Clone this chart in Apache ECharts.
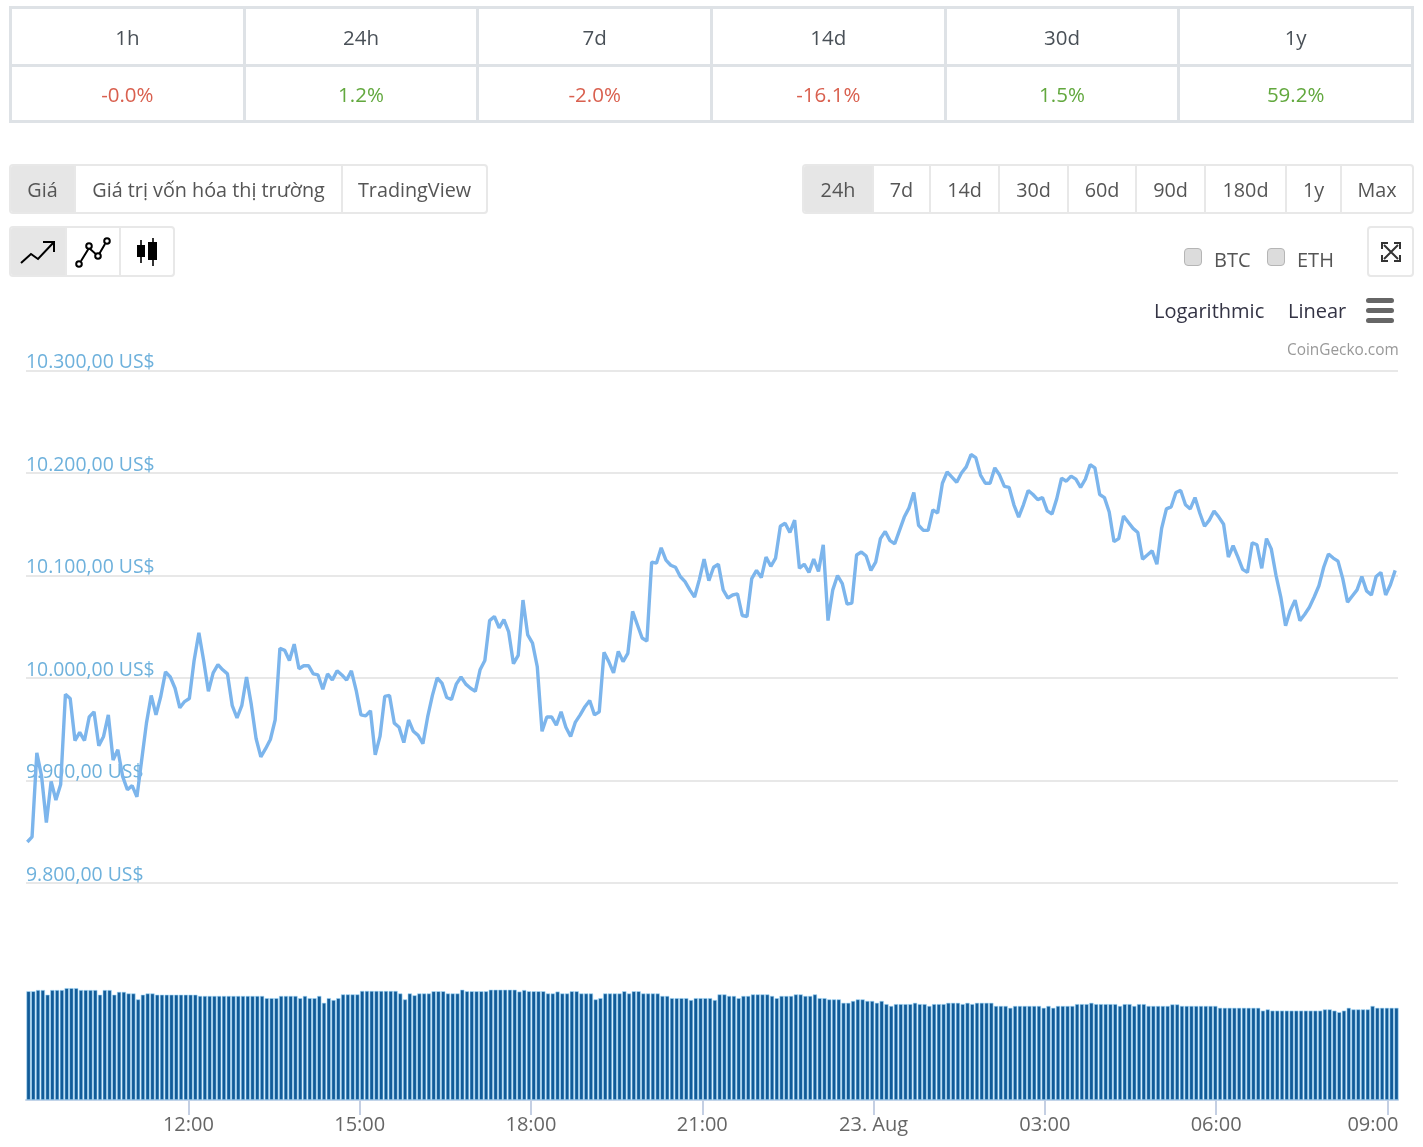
<!DOCTYPE html>
<html>
<head>
<meta charset="utf-8">
<title>Biểu đồ giá</title>
<script src="https://cdn.jsdelivr.net/npm/echarts@6/dist/echarts.min.js"></script>
<style>
html,body{margin:0;padding:0;background:#fff;font-family:"Open Sans",sans-serif;color:#495057}
#chartDiv{position:absolute;left:0;top:0;width:1423px;height:1147px}
.box{position:absolute;z-index:2}
table{position:absolute;left:9px;top:6px;width:1405px;border-collapse:collapse;table-layout:fixed;z-index:2}
td{border:3px solid #dee2e6;text-align:center;font-size:20.5px;padding:0}
#periodRow td{height:55px}
#changeRow td{height:52px;padding-top:1px}
.red{color:#d9604f}
.green{color:#62a83e}
.group{display:flex;border:2px solid #e8e8e8;border-radius:4px;box-sizing:border-box;height:50px;overflow:hidden}
.group div{display:flex;align-items:center;justify-content:center;box-sizing:border-box;border-left:2px solid #e8e8e8;font-size:19.8px;color:#555}
.group div:first-child{border-left:0}
.group .on{background:#e6e6e6}
.check{width:18px;height:18px;border:1px solid #b5b5b5;border-radius:4px;background:#dcdcdc;box-sizing:border-box}
.lab{font-size:20px;color:#555}
</style>
</head>
<body>
<table>
<tr id="periodRow"></tr>
<tr id="changeRow"></tr>
</table>

<div class="box group" style="left:9px;top:164px;width:479px">
  <div class="on" style="width:63px">Giá</div>
  <div style="width:267px">Giá trị vốn hóa thị trường</div>
  <div style="width:145px">TradingView</div>
</div>
<div class="box group" style="left:802px;top:164px;width:612px">
  <div class="on" style="width:68px">24h</div>
  <div style="width:57px">7d</div>
  <div style="width:69px">14d</div>
  <div style="width:69px">30d</div>
  <div style="width:68px">60d</div>
  <div style="width:69px">90d</div>
  <div style="width:81px">180d</div>
  <div style="width:55px">1y</div>
  <div style="width:72px">Max</div>
</div>
<div class="box group" style="left:9px;top:226px;width:166px;height:51px">
  <div class="on" style="width:54px"><svg width="38" height="28" viewBox="0 0 38 28" fill="none" stroke="#000" stroke-width="2"><path d="M2 25 L12 16 L19 21 L35 4 M24 4 H35 V14"/></svg></div>
  <div style="width:54px"><svg width="38" height="34" viewBox="0 0 38 34" fill="none" stroke="#000" stroke-width="2"><path d="M7 26 L15 13 L24 21 L31 9"/><circle cx="5" cy="29" r="2.8" fill="#fff"/><circle cx="15" cy="11" r="2.8" fill="#fff"/><circle cx="24" cy="21" r="2.8" fill="#fff"/><circle cx="33" cy="6" r="2.8" fill="#fff"/></svg></div>
  <div style="width:54px"><svg width="24" height="30" viewBox="0 0 24 30"><path d="M6 3V26M18 1V29" stroke="#333" stroke-width="2"/><rect x="2" y="8" width="8" height="12" fill="#000"/><rect x="13" y="5" width="9" height="18" fill="#000"/></svg></div>
</div>
<div class="box group" style="left:1367px;top:226px;width:47px;height:51px">
  <div style="width:100%"><svg width="22" height="22" viewBox="0 0 22 22" fill="none" stroke="#333" stroke-width="2"><path d="M4 4 L18 18 M18 4 L4 18"/><path d="M2 8 V2 H8 M14 2 H20 V8 M2 14 V20 H8 M14 20 H20 V14"/></svg></div>
</div>
<div class="box check" style="left:1184px;top:248px"></div>
<div class="box lab" style="left:1214px;top:246px">BTC</div>
<div class="box check" style="left:1267px;top:248px"></div>
<div class="box lab" style="left:1297px;top:246px">ETH</div>

<div id="chartDiv"></div>

<script>
var periods = ['1h', '24h', '7d', '14d', '30d', '1y'];
var changes = ['-0.0%', '1.2%', '-2.0%', '-16.1%', '1.5%', '59.2%'];

// one reading about every 5 minutes, starting 22 Aug 09:10
var prices = [
  9840,9845,9927,9904,9859,9899,9881,9896,9984,9980,
  9939,9947,9939,9962,9967,9934,9943,9964,9920,9930,
  9904,9891,9895,9884,9920,9956,9983,9964,9982,10006,
  10001,9990,9971,9977,9980,10017,10044,10017,9987,10005,
  10013,10008,10004,9973,9961,9973,10001,9974,9941,9923,
  9931,9940,9959,10029,10027,10017,10033,10009,10012,10012,
  10004,10003,9989,10004,9998,10007,10003,9998,10007,9988,
  9964,9963,9968,9925,9943,9982,9983,9956,9952,9937,
  9959,9948,9944,9936,9962,9983,10000,9995,9981,9979,
  9994,10001,9994,9990,9987,10008,10017,10056,10060,10049,
  10057,10045,10014,10022,10076,10042,10034,10011,9948,9962,
  9962,9954,9967,9952,9943,9957,9964,9972,9978,9964,
  9967,10025,10016,10005,10026,10016,10024,10065,10052,10039,
  10036,10113,10112,10127,10115,10110,10108,10099,10094,10086,
  10079,10096,10116,10095,10108,10111,10086,10078,10081,10082,
  10061,10060,10097,10105,10098,10118,10109,10117,10148,10151,
  10142,10154,10107,10111,10103,10116,10104,10130,10056,10086,
  10100,10092,10072,10073,10120,10123,10119,10105,10113,10136,
  10143,10134,10131,10144,10157,10166,10181,10149,10144,10144,
  10164,10161,10190,10201,10196,10191,10200,10206,10218,10215,
  10198,10190,10190,10205,10198,10187,10186,10169,10157,10169,
  10183,10179,10174,10176,10163,10160,10175,10195,10192,10197,
  10194,10186,10194,10208,10205,10179,10176,10162,10133,10136,
  10158,10152,10146,10142,10116,10120,10124,10111,10146,10165,
  10167,10181,10183,10169,10165,10176,10161,10148,10154,10163,
  10157,10150,10118,10129,10118,10106,10103,10132,10130,10107,
  10136,10126,10100,10079,10051,10066,10076,10056,10062,10069,
  10079,10090,10108,10121,10117,10114,10097,10074,10080,10086,
  10099,10085,10081,10099,10103,10081,10091,10105
];

// volume in billions of US$, estimated (the chart has no scale for it)
var volumes = [
  17.4,17.4,17.6,17.6,16.85,17.6,17.6,17.6,17.9,17.9,
  17.9,17.6,17.6,17.6,17.6,16.85,17.6,17.6,16.85,17.3,
  17.3,17.05,17.05,16.1,16.85,17.05,17.05,16.85,16.85,16.85,
  16.85,16.85,16.85,16.85,16.85,16.85,16.65,16.65,16.65,16.65,
  16.65,16.65,16.65,16.65,16.65,16.65,16.65,16.65,16.65,16.65,
  16.3,16.3,16.3,16.65,16.65,16.65,16.65,16.3,16.65,16.3,
  16.3,16.65,15.55,16.3,16,16.3,16.9,16.9,16.9,16.9,
  17.45,17.45,17.45,17.45,17.45,17.45,17.45,17.45,17.05,16.1,
  17.05,16.75,17.05,17.05,17.05,17.4,17.4,17.4,17.05,17.05,
  17.05,17.65,17.4,17.4,17.4,17.4,17.4,17.65,17.65,17.65,
  17.65,17.65,17.65,17.35,17.6,17.4,17.4,17.4,17.4,17.05,
  17.05,17.35,17.05,17.05,17.4,17.4,17.05,17.05,17.05,16.1,
  16.3,17.05,17.05,17.05,17.05,17.4,17.05,17.4,17.4,17.05,
  17.05,17.05,17.05,16.65,16.65,16.3,16.3,16.3,16.3,16,
  16.3,16.3,16.3,16.3,16,16.9,16.9,16.65,16.65,16.3,
  16.65,16.65,16.9,16.9,16.9,16.9,16.65,16.3,16.65,16.65,
  16.65,16.9,16.9,16.65,16.65,16.9,16.3,16.3,16.1,16.1,
  16.1,15.55,15.55,15.85,16.1,16.1,15.85,15.85,15.55,15.85,
  15.35,15.05,15.35,15.35,15.35,15.35,15.55,15.35,15.35,15.05,
  15.35,15.35,15.35,15.55,15.55,15.55,15.35,15.55,15.35,15.55,
  15.55,15.55,15.55,15.05,15.05,15.05,14.75,15.05,15.05,15.05,
  15.05,15.05,15.05,14.75,15.05,14.75,15.05,15.05,15.05,15.05,
  15.35,15.35,15.35,15.55,15.35,15.35,15.35,15.35,15.35,15.05,
  15.35,15.35,15.05,15.35,15.35,15.05,15.05,15.05,15.05,15.05,
  15.3,15.3,15.05,15.05,15.05,15.05,15.05,15.05,15.05,15.05,
  14.75,14.75,14.75,14.75,14.75,14.75,14.75,14.75,14.75,14.3,
  14.5,14.3,14.3,14.3,14.3,14.3,14.3,14.3,14.3,14.3,
  14.3,14.3,14.5,14.5,14.3,14.05,14.3,14.75,14.5,14.5,
  14.5,14.5,15.05,14.75,14.75,14.75,14.75,14.75
];

var tickLabels = ['12:00', '15:00', '18:00', '21:00', '23. Aug', '03:00', '06:00', '09:00'];
// minutes since 22 Aug 00:00
var tickMinutes = [720, 900, 1080, 1260, 1440, 1620, 1800, 1980];
var PRICE_START = 550.7;
var VOLUME_START = 552;
var STEP_MINUTES = 5.0085;
var AXIS_MIN = 549.34;
var AXIS_MAX = 1991.1;

periods.forEach(function (p, i) {
    document.getElementById('periodRow').insertAdjacentHTML('beforeend', '<td>' + p + '</td>');
    var cls = changes[i].charAt(0) == '-' ? 'red' : 'green';
    document.getElementById('changeRow').insertAdjacentHTML('beforeend', '<td class="' + cls + '">' + changes[i] + '</td>');
});

var priceData = prices.map(function (v, i) { return [PRICE_START + i * STEP_MINUTES, v]; });
var volumeData = volumes.map(function (v, i) { return [VOLUME_START + i * STEP_MINUTES, v]; });

var chart = echarts.init(document.getElementById('chartDiv'));
var labelFont = '"Open Sans", sans-serif';
chart.setOption({
    animation: false,
    grid: [
        {left: 26, right: 25, top: 370.5, height: 512.5},
        {left: 26, right: 25, top: 975, height: 125}
    ],
    xAxis: [
        {type: 'value', gridIndex: 0, min: AXIS_MIN, max: AXIS_MAX, show: false},
        {
            type: 'value',
            gridIndex: 1,
            min: AXIS_MIN,
            max: AXIS_MAX,
            splitLine: {show: false},
            axisLine: {lineStyle: {color: '#c6d4e8', width: 2}},
            axisTick: {customValues: tickMinutes, length: 15, lineStyle: {color: '#c4cfe3', width: 2}},
            axisLabel: {
                customValues: tickMinutes,
                margin: 15,
                color: '#666',
                fontSize: 20,
                fontFamily: labelFont,
                rich: {
                    // the last label is pushed in from the edge of the plot
                    last: {padding: [0, 29, 0, 0], color: '#666', fontSize: 20, fontFamily: labelFont}
                },
                formatter: function (value) {
                    var idx = tickMinutes.indexOf(value);
                    return idx == tickLabels.length - 1 ? '{last|' + tickLabels[idx] + '}' : tickLabels[idx];
                }
            }
        }
    ],
    yAxis: [
        {
            type: 'value',
            gridIndex: 0,
            min: 9800,
            max: 10300,
            interval: 100,
            axisLine: {show: false},
            axisTick: {show: false},
            splitLine: {lineStyle: {color: '#e8e8e8', width: 2}},
            axisLabel: {
                inside: true,
                margin: 0,
                verticalAlign: 'bottom',
                lineHeight: 16,
                color: '#6eb1dc',
                fontSize: 19.4,
                fontFamily: labelFont,
                formatter: function (v) {
                    return v.toLocaleString('de-DE', {minimumFractionDigits: 2}) + ' US$';
                }
            }
        },
        {type: 'value', gridIndex: 1, min: 0, max: 20, show: false}
    ],
    series: [
        {
            name: 'Giá',
            type: 'line',
            xAxisIndex: 0,
            yAxisIndex: 0,
            showSymbol: false,
            lineStyle: {color: '#7cb5ec', width: 3.4},
            data: priceData
        },
        {
            name: 'Khối lượng',
            type: 'bar',
            xAxisIndex: 1,
            yAxisIndex: 1,
            barWidth: 4.2,
            itemStyle: {color: '#115b98', borderColor: '#a6dcfb', borderWidth: 0.6},
            data: volumeData
        }
    ],
    graphic: [
        {type: 'text', left: 1154, top: 302, style: {text: 'Logarithmic', font: '20px "Open Sans"', fill: '#333344'}},
        {type: 'text', left: 1288, top: 302, style: {text: 'Linear', font: '20px "Open Sans"', fill: '#333344'}},
        {type: 'rect', left: 1366, top: 298, shape: {width: 28, height: 5, r: 2.5}, style: {fill: '#666'}},
        {type: 'rect', left: 1366, top: 308, shape: {width: 28, height: 5, r: 2.5}, style: {fill: '#666'}},
        {type: 'rect', left: 1366, top: 318, shape: {width: 28, height: 5, r: 2.5}, style: {fill: '#666'}},
        {type: 'text', left: 1287, top: 343, style: {text: 'CoinGecko.com', font: '15.4px "Open Sans"', fill: '#999'}}
    ]
});
</script>
</body>
</html>
